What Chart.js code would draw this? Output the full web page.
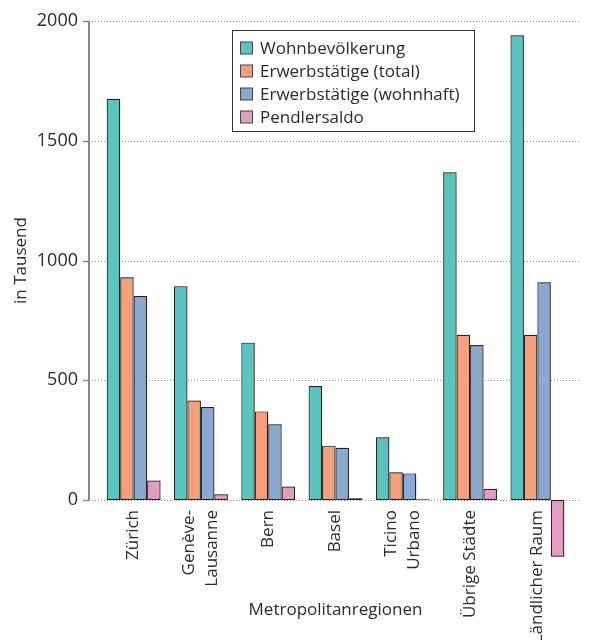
<!DOCTYPE html>
<html>
<head>
<meta charset="utf-8">
<script src="https://cdn.jsdelivr.net/npm/chart.js@4/dist/chart.umd.min.js"></script>
<style>
  html, body { margin: 0; padding: 0; background: #fff; }
  #wrap { width: 600px; height: 640px; }
</style>
</head>
<body>
<div id="wrap"><canvas id="c" width="600" height="640"></canvas></div>
<script>
const categories = ['Zürich', ['Genève-', 'Lausanne'], 'Bern', 'Basel', ['Ticino', 'Urbano'], 'Übrige Städte', 'Ländlicher Raum'];
const seriesNames = ['Wohnbevölkerung', 'Erwerbstätige (total)', 'Erwerbstätige (wohnhaft)', 'Pendlersaldo'];
const wohnbevoelkerung = [1675, 893, 657, 476, 262, 1368, 1940];
const erwerbTotal = [930, 415, 370, 227, 116, 690, 690];
const erwerbWohnhaft = [852, 388, 316, 218, 111, 647, 909];
const pendlersaldo = [81, 24, 56, 7, 3, 47, -237];
const yTicks = [0, 500, 1000, 1500, 2000];

const colors = ['#5cc4be', '#f5a07c', '#89a9d0', '#e39dc2'];
const FONT = '"Open Sans", "DejaVu Sans", sans-serif';
const TEXT = '#2b2b2b';

const gridPlugin = {
  id: 'customGrid',
  beforeDatasetsDraw(chart) {
    const ctx = chart.ctx, y = chart.scales.y, a = chart.chartArea;
    const axisX = a.left - 11;
    ctx.save();
    ctx.strokeStyle = '#8a8a8a';
    ctx.lineWidth = 1;
    ctx.setLineDash([1, 2]);
    y.ticks.forEach(t => {
      const py = Math.round(y.getPixelForValue(t.value)) + 0.5;
      ctx.beginPath(); ctx.moveTo(axisX, py); ctx.lineTo(a.right + 10, py); ctx.stroke();
    });
    ctx.setLineDash([]);
    ctx.strokeStyle = '#888888';
    ctx.lineWidth = 2;
    ctx.beginPath();
    ctx.moveTo(axisX, y.getPixelForValue(2000));
    ctx.lineTo(axisX, y.getPixelForValue(0));
    ctx.stroke();
    ctx.lineWidth = 1.5;
    y.ticks.forEach(t => {
      const py = Math.round(y.getPixelForValue(t.value)) + 0.5;
      ctx.beginPath(); ctx.moveTo(axisX - 6, py); ctx.lineTo(axisX, py); ctx.stroke();
    });
    ctx.restore();
  },
  beforeDatasetDraw(chart) {
    const ctx = chart.ctx;
    ctx.save();
    ctx.shadowColor = 'rgba(0,0,0,0.35)';
    ctx.shadowBlur = 1.5;
    ctx.shadowOffsetX = 1;
    ctx.shadowOffsetY = 0;
  },
  afterDatasetDraw(chart) {
    chart.ctx.restore();
  }
};

const labelPlugin = {
  id: 'xLabels',
  afterDraw(chart) {
    const ctx = chart.ctx, x = chart.scales.x, y = chart.scales.y;
    const top = y.getPixelForValue(0) + 10;
    const lh = 23;
    ctx.save();
    ctx.fillStyle = TEXT;
    ctx.font = '17px ' + FONT;
    ctx.textAlign = 'right';
    ctx.textBaseline = 'middle';
    chart.data.labels.forEach((lab, i) => {
      const lines = Array.isArray(lab) ? lab : [lab];
      const px = x.getPixelForValue(i);
      ctx.save();
      ctx.translate(px, top);
      ctx.rotate(-Math.PI / 2);
      lines.forEach((ln, j) => {
        ctx.fillText(ln, 0, (j - (lines.length - 1) / 2) * lh);
      });
      ctx.restore();
    });
    ctx.restore();
  }
};

const legendPlugin = {
  id: 'boxLegend',
  afterDraw(chart) {
    const ctx = chart.ctx;
    const bx = 232.5, by = 30.5, bw = 242, bh = 101;
    ctx.save();
    ctx.fillStyle = '#ffffff';
    ctx.fillRect(bx, by, bw, bh);
    ctx.strokeStyle = '#333333';
    ctx.lineWidth = 1;
    ctx.strokeRect(bx, by, bw, bh);
    ctx.font = '17px ' + FONT;
    ctx.textBaseline = 'middle';
    ctx.textAlign = 'left';
    chart.data.datasets.forEach((ds, i) => {
      const cy = 48 + i * 23;
      ctx.fillStyle = ds.backgroundColor;
      ctx.fillRect(240.5, cy - 6, 12, 12);
      ctx.strokeStyle = '#444444';
      ctx.strokeRect(240.5, cy - 6, 12, 12);
      ctx.fillStyle = TEXT;
      ctx.fillText(ds.label, 260, cy + 1);
    });
    ctx.restore();
  }
};

const seriesValues = [wohnbevoelkerung, erwerbTotal, erwerbWohnhaft, pendlersaldo];

new Chart(document.getElementById('c'), {
  type: 'bar',
  data: {
    labels: categories,
    datasets: seriesValues.map((vals, i) => ({
      label: seriesNames[i],
      data: vals,
      backgroundColor: colors[i],
      borderColor: '#262626',
      borderWidth: 1.2,
      borderSkipped: false,
      clip: false,
      categoryPercentage: 0.8,
      barPercentage: 1.0
    }))
  },
  options: {
    responsive: false,
    animation: false,
    devicePixelRatio: 1,
    layout: { padding: { top: 21, right: 29, left: 0, bottom: 0 } },
    plugins: { legend: { display: false }, tooltip: { enabled: false } },
    scales: {
      x: {
        grid: { display: false, drawTicks: false },
        border: { display: false },
        ticks: { display: false },
        title: {
          display: true, text: 'Metropolitanregionen', color: TEXT,
          font: { family: FONT, size: 17 }, padding: { top: 0, bottom: 20 }
        },
        afterFit(scale) { scale.height = 140; }
      },
      y: {
        min: 0, max: 2000,
        grid: { display: false, drawTicks: true, tickLength: 22 },
        border: { display: false },
        afterBuildTicks(scale) { scale.ticks = yTicks.map(v => ({ value: v })); },
        ticks: {
          color: TEXT, font: { family: FONT, size: 18 }, padding: 0,
          callback: v => String(v)
        },
        title: {
          display: true, text: 'in Tausend', color: TEXT,
          font: { family: FONT, size: 17 }, padding: { top: 11, bottom: 0 }
        },
        afterFit(scale) { scale.width = 100; }
      }
    }
  },
  plugins: [gridPlugin, labelPlugin, legendPlugin]
});
</script>
</body>
</html>
